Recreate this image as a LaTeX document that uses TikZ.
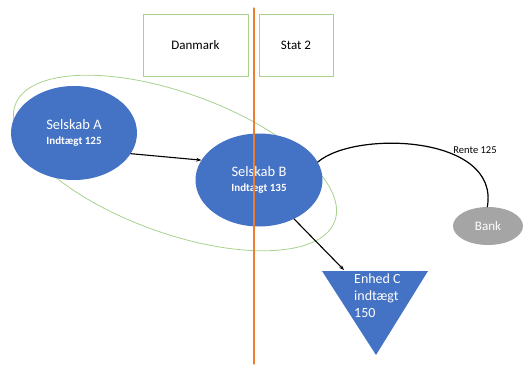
\documentclass[tikz,border=0pt]{standalone}
\usepackage{fontspec}
\setmainfont{Carlito}
\usetikzlibrary{arrows.meta,shapes.geometric}
\definecolor{selblue}{HTML}{4472C4}
\definecolor{bankgray}{HTML}{A5A5A5}
\definecolor{landgreen}{HTML}{A9D18E}
\definecolor{grense}{HTML}{ED7D31}
\tikzset{
  selskab/.style={ellipse,fill=selblue,text=white,align=center,inner sep=0pt,font=\fontsize{14.5}{16}\selectfont},
  land/.style={draw=landgreen,line width=0.8pt,minimum width=105pt,minimum height=62pt,font=\fontsize{13}{15}\selectfont},
  pil/.style={-{Stealth[length=5pt]},line width=1.1pt}
}
\begin{document}
\begin{tikzpicture}[line cap=round,line join=round,x=1pt,y=-1pt]
	\useasboundingbox (0,0) rectangle (524,364);
	\node[land] (dk) at (195.5,45) {Danmark};
	\node[land,minimum width=74pt] (st) at (296,45) {Stat 2};
	\draw[landgreen,line width=0.8pt,rotate around={-20:(175,163)}] (175,163) ellipse [x radius=170,y radius=70];
	\node[selskab,minimum width=126pt,minimum height=94pt] (a) at (74,133) {Selskab A\\[-1pt]\fontsize{11}{12}\selectfont\bfseries Indtægt 125};
	\node[selskab,minimum width=127pt,minimum height=93pt] (b) at (259,180) {Selskab B\\[-1pt]\fontsize{11}{12}\selectfont\bfseries Indtægt 135};
	\node[ellipse,fill=bankgray,text=white,minimum width=70pt,minimum height=38pt,inner sep=0pt,font=\fontsize{13}{15}\selectfont] (bank) at (488,226) {Bank};
	\coordinate (c1) at (322,271);
	\coordinate (c2) at (428,271);
	\coordinate (c3) at (376,355);
	\fill[selblue] (c1) -- (c2) -- (c3) -- cycle;
	\node[text=white,align=left,anchor=north west,inner sep=0pt,font=\fontsize{14}{17}\selectfont] (c) at (354,274) {Enhed C\\indtægt\\150};
	\draw[grense,line width=1.3pt] (254,8) coordinate (top) -- (254,364) coordinate (bund);
	\draw[pil] (a.-20) -- (b.161);
	\draw[pil] (b.-48) -- (344,270);
	\draw[line width=1.2pt] (b.17) .. controls (355,130) and (500,135) .. (bank.92);
	\node[font=\fontsize{10.5}{12}\selectfont] (rente) at (475,150) {Rente 125};
\end{tikzpicture}
\end{document}
